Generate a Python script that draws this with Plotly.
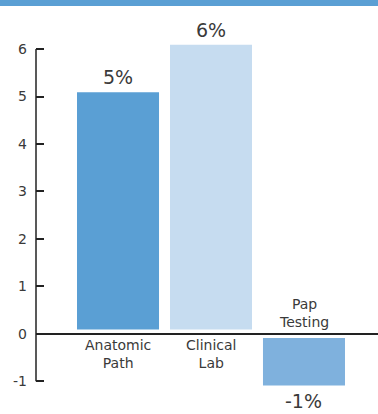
import plotly.graph_objects as go

# Year-over-year change by testing segment (%)
categories = ["Anatomic<br>Path", "Clinical<br>Lab", "Pap<br>Testing"]
changes = [5, 6, -1]
bar_colors = ["#5a9fd4", "#c6dcf0", "#7fb1dd"]
y_ticks = [-1, 0, 1, 2, 3, 4, 5, 6]
y_tick_text = ["-1", "0", "1", "2", "3", "4", "5", "6"]

W, H = 378, 414
M_L, M_R, M_T, M_B = 36, 0, 42, 28
Y_RANGE = [-1.1, 6.15]
GAP = 0.09  # white space between bars and the zero line

FONT = "'DejaVu Sans', Lato, sans-serif"
TEXT = "#3a3a3a"
AXIS = "#222222"

bases = [GAP if v >= 0 else -GAP for v in changes]

fig = go.Figure(
    go.Bar(
        x=list(range(len(categories))),
        y=changes,
        base=bases,
        marker=dict(color=bar_colors, line=dict(width=0)),
        cliponaxis=False,
        hoverinfo="skip",
    )
)

annotations = []
for i, (cat, v, b) in enumerate(zip(categories, changes, bases)):
    top = v + b
    # value label beyond the bar end
    annotations.append(dict(
        x=i, y=top, xref="x", yref="y", text=f"{v}%", showarrow=False,
        yanchor="bottom" if v >= 0 else "top", yshift=3 if v >= 0 else -3,
        borderpad=0,
        font=dict(family=FONT, size=19, color=TEXT),
    ))
    # category label on the opposite side of the zero line
    annotations.append(dict(
        x=i, y=0, xref="x", yref="y", text=cat, showarrow=False,
        yanchor="top" if v >= 0 else "bottom", yshift=-1 if v >= 0 else 2,
        font=dict(family=FONT, size=14, color=TEXT),
    ))

fig.update_layout(
    width=W, height=H,
    margin=dict(l=M_L, r=M_R, t=M_T, b=M_B),
    paper_bgcolor="white", plot_bgcolor="white",
    showlegend=False,
    bargap=0.118,
    xaxis=dict(
        range=[-0.882, 2.796], showgrid=False, zeroline=False,
        showticklabels=False, ticks="", showline=False, fixedrange=True,
    ),
    yaxis=dict(
        range=Y_RANGE, tickvals=y_ticks, ticktext=y_tick_text, showgrid=False,
        zeroline=True, zerolinecolor=AXIS, zerolinewidth=2,
        showline=False,
        ticks="inside", ticklen=8, tickwidth=1.5, tickcolor=AXIS,
        ticklabelstandoff=8,
        tickfont=dict(family=FONT, size=14, color=TEXT),
        fixedrange=True,
    ),
    annotations=annotations,
    shapes=[
        # vertical axis spine spanning the tick range only
        dict(type="line", xref="paper", yref="y", x0=0, x1=0,
             y0=min(y_ticks), y1=max(y_ticks),
             line=dict(color=AXIS, width=1.5), layer="above"),
        # header band
        dict(type="rect", xref="paper", yref="paper",
             x0=-M_L / (W - M_L - M_R), x1=1,
             y0=1 + (M_T - 6) / (H - M_T - M_B), y1=1 + M_T / (H - M_T - M_B),
             fillcolor="#5a9fd4", line=dict(width=0), layer="above"),
    ],
)

fig.write_html("out.html")
